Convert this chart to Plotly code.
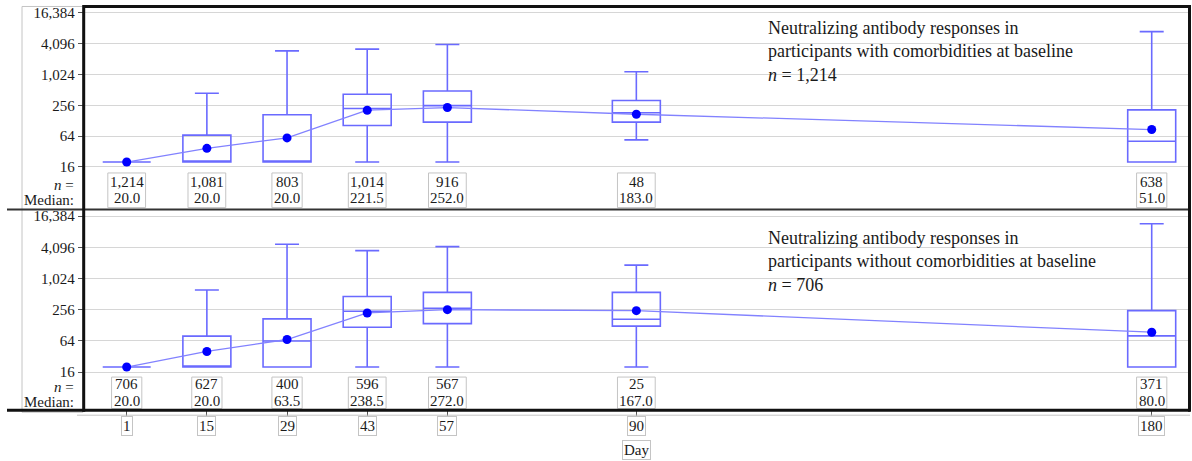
import plotly.graph_objects as go

W, H = 1192, 461


def px(x):
    return x / W


def py(y):
    return 1 - y / H


# ---------------- data ----------------
days = [1, 15, 29, 43, 57, 90, 180]
day_labels = ["1", "15", "29", "43", "57", "90", "180"]
ytick_vals = [16, 64, 256, 1024, 4096, 16384]
ytick_text = ["16", "64", "256", "1,024", "4,096", "16,384"]

# with comorbidities (top panel)
n_with = [1214, 1081, 803, 1014, 916, 48, 638]
median_with = [20.0, 20.0, 20.0, 221.5, 252.0, 183.0, 51.0]
q1_with = [20, 20, 20, 103, 120, 120, 20]
q3_with = [20, 67, 167, 419, 487, 316, 208]
low_with = [20, 20, 20, 20, 20, 54, 20]
high_with = [20, 438, 2950, 3190, 3920, 1155, 7000]
mean_with = [20, 37, 59, 205, 231, 171, 86]

# without comorbidities (bottom panel)
n_without = [706, 627, 400, 596, 567, 25, 371]
median_without = [20.0, 20.0, 63.5, 238.5, 272.0, 167.0, 80.0]
q1_without = [20, 20, 20, 117, 138, 123, 20]
q3_without = [20, 79, 170, 461, 551, 551, 245]
low_without = [20, 20, 20, 20, 20, 20, 20]
high_without = [20, 613, 4690, 3530, 4210, 1850, 11650]
mean_without = [20, 40, 68, 221, 256, 245, 94]

title_with = "Neutralizing antibody responses in<br>participants with comorbidities at baseline<br><i>n</i> = 1,214"
title_without = "Neutralizing antibody responses in<br>participants without comorbidities at baseline<br><i>n</i> = 706"

# ---------------- style ----------------
FONT = "Liberation Serif, Times New Roman, serif"
TXT = "#1a1a1a"
BOX_COLOR = "#6a6aff"
MEAN_LINE = "#8282ff"
MEAN_DOT = "#0000ff"
GRID = "#d6d6d6"
LBOX = "#c4c4c4"

X_LEFT, X_RIGHT = 83.7, 1189.5
panels = [
    dict(n=n_with, med=median_with, q1=q1_with, q3=q3_with, lo=low_with, hi=high_with,
         mean=mean_with, title=title_with, xa="x", ya="y",
         top=4.5, bottom=208.5, yrange=[0.373, 4.335],
         n_y=180.5, med_y=197.0, box_top=171.7, box_bot=206.5, title_y=14.5),
    dict(n=n_without, med=median_without, q1=q1_without, q3=q3_without, lo=low_without,
         hi=high_without, mean=mean_without, title=title_without, xa="x2", ya="y2",
         top=208.5, bottom=410.0, yrange=[0.468, 4.339],
         n_y=384.0, med_y=400.5, box_top=376.7, box_bot=408.3, title_y=224.5),
]

fig = go.Figure()
annotations = []
shapes = []


def text_w(s):
    return sum(3.75 if c in ".," else 7.5 for c in s)


def label(x, xref, y, text, size=15, xanchor="center", **kw):
    d = dict(x=x, xref=xref, y=y, yref="paper", text=text, showarrow=False,
             xanchor=xanchor, yanchor="middle",
             font=dict(family=FONT, size=size, color=TXT))
    d.update(kw)
    annotations.append(d)


for p in panels:
    fig.add_trace(go.Box(
        x=days, q1=p["q1"], median=p["med"], q3=p["q3"],
        lowerfence=p["lo"], upperfence=p["hi"],
        width=8.38, whiskerwidth=0.5, boxpoints=False,
        line=dict(color=BOX_COLOR, width=1.6), fillcolor="rgba(0,0,0,0)",
        xaxis=p["xa"], yaxis=p["ya"], showlegend=False, hoverinfo="skip"))
    fig.add_trace(go.Scatter(
        x=days, y=p["mean"], mode="lines+markers",
        line=dict(color=MEAN_LINE, width=1.3),
        marker=dict(color=MEAN_DOT, size=9),
        xaxis=p["xa"], yaxis=p["ya"], showlegend=False, hoverinfo="skip"))

    for d, nv, mv in zip(days, p["n"], p["med"]):
        ns = f"{nv:,}"
        ms = f"{mv:.1f}"
        label(d, "x", py(p["n_y"]), ns)
        label(d, "x", py(p["med_y"]), ms)
        w = max(text_w(ns), text_w(ms)) + 4
        shapes.append(dict(type="rect", xref="x", xsizemode="pixel", xanchor=d,
                           x0=-w / 2, x1=w / 2, yref="paper",
                           y0=py(p["box_bot"]), y1=py(p["box_top"]),
                           line=dict(color=LBOX, width=1), layer="below"))

    label(px(75.5), "paper", py(p["n_y"] + 3), "<i>n</i> =", xanchor="right")
    label(px(75.5), "paper", py(p["med_y"] + 1.5), "Median:", xanchor="right")
    annotations.append(dict(x=px(766), xref="paper", y=py(p["title_y"]), yref="paper",
                            text=p["title"], showarrow=False, xanchor="left", yanchor="top",
                            align="left", font=dict(family=FONT, size=18, color=TXT)))

# x tick labels with thin boxes
for d, lab in zip(days, day_labels):
    label(d, "x", py(425.5), lab, bordercolor=LBOX, borderwidth=1, borderpad=1)
label(px((X_LEFT + X_RIGHT) / 2), "paper", py(449.5), "Day",
      bordercolor=LBOX, borderwidth=1, borderpad=1)


# frame / decorations
def pline(x0, y0, x1, y1, color, width):
    shapes.append(dict(type="line", xref="paper", yref="paper",
                       x0=px(x0), y0=py(y0), x1=px(x1), y1=py(y1),
                       line=dict(color=color, width=width), layer="above"))


shapes.append(dict(type="rect", xref="paper", yref="paper", x0=px(22), x1=px(83),
                   y0=py(412), y1=py(4.5), line=dict(color=LBOX, width=1), layer="below"))
pline(77, 415, 1190, 415, LBOX, 1)
pline(83, 4.5, 1190, 4.5, "#111", 3)
pline(7, 208.5, 1190, 208.5, "#333", 2)
pline(7, 410, 1190, 410, "#111", 3)
pline(X_LEFT, 3, X_LEFT, 411.5, "#111", 3)
pline(X_RIGHT, 3, X_RIGHT, 411.5, "#111", 3)

xdom = [px(X_LEFT), px(X_RIGHT)]
xrange_ = [-6.51, 186.6]
yaxis_common = dict(type="log", tickvals=ytick_vals, ticktext=ytick_text,
                    ticks="outside", ticklen=5, tickcolor="#555", showgrid=True,
                    gridcolor=GRID, gridwidth=1, zeroline=False, showline=False,
                    tickfont=dict(family=FONT, size=15, color=TXT))

fig.update_layout(
    width=W, height=H, margin=dict(l=0, r=0, t=0, b=0),
    paper_bgcolor="white", plot_bgcolor="white", showlegend=False,
    xaxis=dict(domain=xdom, range=xrange_, anchor="y", showticklabels=False,
               showgrid=False, zeroline=False, ticks=""),
    xaxis2=dict(domain=xdom, range=xrange_, anchor="y2", tickvals=days,
                showticklabels=False, ticks="outside", ticklen=6, tickcolor="#555",
                showgrid=False, zeroline=False),
    yaxis=dict(domain=[py(panels[0]["bottom"]), py(panels[0]["top"])],
               range=panels[0]["yrange"], anchor="x", **yaxis_common),
    yaxis2=dict(domain=[py(panels[1]["bottom"]), py(panels[1]["top"])],
                range=panels[1]["yrange"], anchor="x2", **yaxis_common),
    annotations=annotations, shapes=shapes,
)

fig.write_html("out.html")
